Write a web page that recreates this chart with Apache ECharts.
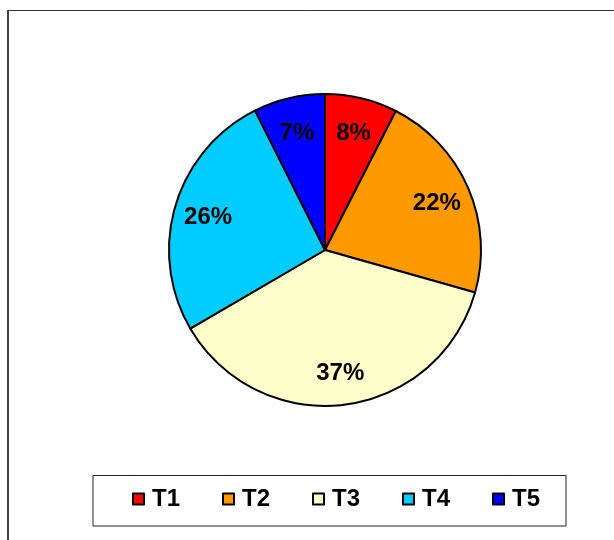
<!DOCTYPE html>
<html>
<head>
<meta charset="utf-8">
<script src="https://cdn.jsdelivr.net/npm/echarts@6/dist/echarts.min.js"></script>
<style>html,body{margin:0;padding:0;background:#fff;}#c{width:614px;height:540px;}</style>
</head>
<body>
<div id="c"></div>
<script>
var categories = ['T1', 'T2', 'T3', 'T4', 'T5'];
var values = [7.5, 21.9, 37.2, 26.0, 7.4];
var labels = ['8%', '22%', '37%', '26%', '7%'];
var colors = ['#FF0000', '#FF9900', '#FFFFCC', '#00CCFF', '#0000FF'];

var FONT = 'Arial, "Liberation Sans", sans-serif';
var chart = echarts.init(document.getElementById('c'));
chart.setOption({
  backgroundColor: '#fff',
  animation: false,
  graphic: [
    { type: 'line', shape: { x1: 8, y1: 10, x2: 8, y2: 540 }, style: { stroke: '#444', lineWidth: 2 } },
    { type: 'line', shape: { x1: 7, y1: 10.5, x2: 614, y2: 10.5 }, style: { stroke: '#333', lineWidth: 1 } },
    { type: 'rect', shape: { x: 93, y: 475.5, width: 473, height: 50.5 }, style: { fill: 'none', stroke: '#222', lineWidth: 1 } }
  ],
  legend: {
    data: categories,
    left: 132,
    top: 487,
    padding: 0,
    itemWidth: 11,
    itemHeight: 11,
    itemGap: 42,
    icon: 'rect',
    selectedMode: false,
    itemStyle: { borderColor: '#000', borderWidth: 2 },
    textStyle: { fontFamily: FONT, fontWeight: 'bold', fontSize: 24, color: '#000', padding: [0, 0, 0, 3] }
  },
  series: [
    {
      type: 'pie',
      center: [325, 250],
      radius: [0, 156],
      startAngle: 90,
      clockwise: true,
      silent: true,
      label: { show: false },
      labelLine: { show: false },
      itemStyle: { borderColor: '#000', borderWidth: 2 },
      emphasis: { disabled: true },
      data: categories.map(function (c, i) {
        return { name: c, value: values[i], itemStyle: { color: colors[i] } };
      })
    },
    {
      type: 'pie',
      center: [325, 252],
      radius: [82, 156],
      startAngle: 90,
      clockwise: true,
      silent: true,
      z: 5,
      itemStyle: { color: 'rgba(0,0,0,0)', borderWidth: 0 },
      emphasis: { disabled: true },
      labelLine: { show: false },
      label: {
        show: true,
        position: 'inside',
        fontFamily: FONT,
        fontWeight: 'bold',
        fontSize: 24,
        color: '#000',
        formatter: function (p) { return labels[p.dataIndex]; }
      },
      data: categories.map(function (c, i) {
        return { name: 'lab' + i, value: values[i] };
      })
    }
  ]
});
</script>
</body>
</html>
